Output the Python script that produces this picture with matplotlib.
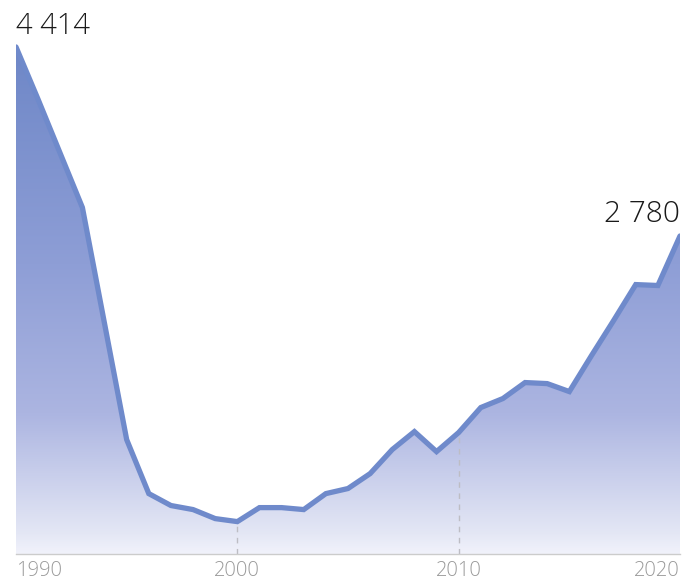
import numpy as np
import matplotlib
matplotlib.use("Agg")
import matplotlib.pyplot as plt
from matplotlib.colors import LinearSegmentedColormap

# Годовые значения, 1990-2020
years = list(range(1990, 2021))
values = [4414, 3960, 3493, 3026, 2023, 1020, 553, 450, 415, 337,
          311, 432, 432, 415, 553, 597, 726, 934, 1089, 916,
          1081, 1297, 1375, 1513, 1504, 1435, 1746, 2049, 2360, 2352,
          2780]
tick_years = [1990, 2000, 2010, 2020]
tick_labels = ["1990", "2000", "2010", "2020"]
grid_years = [2000, 2010]

line_color = "#6f8acb"
y_min, y_max = 31, 4820

plt.rcParams["font.family"] = ["Open Sans", "DejaVu Sans"]

fig = plt.figure(figsize=(6.82, 5.81), dpi=100)
ax = fig.add_axes([16 / 682, 27 / 581, 664 / 682, 554 / 581])

x = np.array(years)
y = np.array(values)

# заливка градиентом под линией
fill = ax.fill_between(x, y_min, y, color="none", lw=0)
top = max(values)
stops = [(0.0, "#f1f2fb"), ((200 - y_min) / (top - y_min), "#e4e7f5"),
         ((1238 - y_min) / (top - y_min), "#acb5e1"),
         ((2535 - y_min) / (top - y_min), "#8e9ed6"), (1.0, "#6e87c7")]
cmap = LinearSegmentedColormap.from_list("grad", stops)
grad = np.linspace(0, 1, 256).reshape(-1, 1)
img = ax.imshow(grad, cmap=cmap, aspect="auto", origin="lower",
                extent=[x[0], x[-1], y_min, top], zorder=1)
clip = fill.get_paths()[0]
img.set_clip_path(clip, transform=ax.transData)

# пунктирные линии сетки под графиком
for gy in grid_years:
    v = values[years.index(gy)]
    ax.plot([gy, gy], [y_min, v], color="#bdbdc4", lw=1, ls=(0, (4, 4)), zorder=2)

ax.plot(x, y, color=line_color, lw=3.8, solid_joinstyle="miter",
        solid_capstyle="round", zorder=3)

ax.set_xlim(1990, 2020)
ax.set_ylim(y_min, y_max)
for side in ["top", "left", "right"]:
    ax.spines[side].set_visible(False)
ax.spines["bottom"].set_color("#cccccc")
ax.spines["bottom"].set_linewidth(1)
ax.set_yticks([])
ax.set_xticks([])

# подписи годов
aligns = ["left", "center", "center", "right"]
for ty, lab, ha in zip(tick_years, tick_labels, aligns):
    ax.annotate(lab, xy=(ty, y_min), xytext=(0, -5), textcoords="offset points",
                ha=ha, va="top", fontsize=14.5, color="#9a9a9a", fontweight="light")

# значения первой и последней точки
ax.annotate(f"{values[0]:,}".replace(",", " "), xy=(years[0], values[0]),
            xytext=(0, 9), textcoords="offset points", ha="left", va="baseline",
            fontsize=21, color="#1a1a1a", fontweight="light")
ax.annotate(f"{values[-1]:,}".replace(",", " "), xy=(years[-1], values[-1]),
            xytext=(0, 10), textcoords="offset points", ha="right", va="baseline",
            fontsize=21.5, color="#1a1a1a", fontweight="light")

fig.savefig("out.png", dpi=100)
